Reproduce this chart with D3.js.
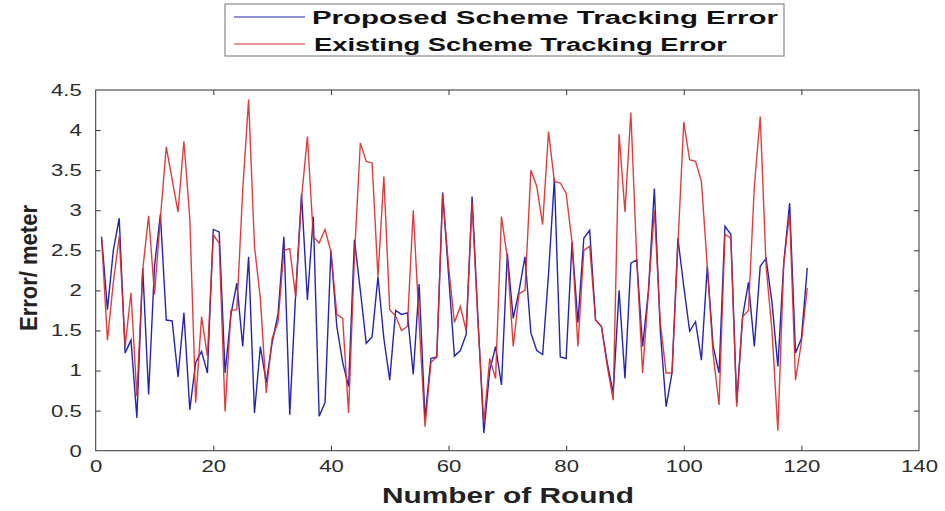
<!DOCTYPE html>
<html>
<head>
<meta charset="utf-8">
<script src="https://cdn.jsdelivr.net/npm/d3@7"></script>
<style>
  body { margin: 0; background: #fff; }
  text { font-family: "Liberation Sans", Arial, sans-serif; }
</style>
</head>
<body>
<svg id="chart" width="945" height="511"></svg>
<script>
// data, one value per round (rounds 1..121)
var proposed = [2.67, 1.76, 2.5, 2.9, 1.22, 1.38, 0.41, 2.28, 0.7, 2.3,
  2.95, 1.63, 1.62, 0.92, 1.72, 0.51, 1.1, 1.24, 0.97, 2.76,
  2.73, 0.97, 1.7, 2.09, 1.3, 2.42, 0.47, 1.3, 0.85, 1.35,
  1.7, 2.67, 0.45, 1.95, 3.2, 1.88, 2.92, 0.43, 0.6, 2.5,
  1.55, 1.1, 0.8, 2.63, 2.0, 1.34, 1.42, 2.17, 1.4, 0.88,
  1.75, 1.7, 1.72, 0.95, 2.08, 0.4, 1.15, 1.17, 3.22, 2.2,
  1.18, 1.25, 1.45, 3.17, 1.65, 0.22, 1.0, 1.3, 0.82, 2.46,
  1.65, 2.0, 2.42, 1.47, 1.25, 1.2, 2.2, 3.4, 1.17, 1.15,
  2.6, 1.6, 2.65, 2.75, 1.63, 1.55, 1.09, 0.72, 2.0, 0.9,
  2.34, 2.38, 1.3, 2.0, 3.27, 1.5, 0.55, 0.97, 2.65, 2.05,
  1.49, 1.61, 1.13, 2.3, 1.3, 0.97, 2.8, 2.7, 0.6, 1.67,
  2.1, 1.3, 2.3, 2.4, 1.85, 1.05, 2.34, 3.09, 1.22, 1.4,
  2.28];
var existing = [2.65, 1.38, 2.1, 2.67, 1.3, 1.97, 0.68, 2.26, 2.93, 1.95,
  2.9, 3.79, 3.38, 2.98, 3.86, 2.9, 0.6, 1.67, 1.18, 2.69,
  2.59, 0.49, 1.75, 1.76, 3.25, 4.38, 2.55, 1.9, 0.72, 1.4,
  1.6, 2.5, 2.52, 1.92, 3.15, 3.92, 2.67, 2.59, 2.76, 2.48,
  1.7, 1.65, 0.47, 2.42, 3.84, 3.61, 3.59, 2.17, 3.42, 1.76,
  1.68, 1.5, 1.55, 3.0, 1.6, 0.3, 1.1, 1.17, 3.2, 2.3,
  1.6, 1.8, 1.5, 3.1, 1.6, 0.35, 1.15, 0.9, 2.92, 2.4,
  1.3, 1.96, 2.0, 3.5, 3.3, 2.82, 3.98, 3.36, 3.34, 3.21,
  2.6, 1.3, 2.5, 2.55, 1.63, 1.55, 1.05, 0.63, 3.95, 2.98,
  4.22, 2.4, 0.97, 2.0, 3.0, 1.6, 0.97, 0.97, 2.55, 4.1,
  3.63, 3.61, 3.36, 2.3, 1.2, 0.57, 2.7, 2.65, 0.55, 1.67,
  1.75, 3.3, 4.17, 2.3, 1.5, 0.25, 2.34, 2.96, 0.88, 1.35,
  2.03];
var seriesNames = ["Proposed Scheme Tracking Error", "Existing Scheme Tracking Error"];
var xTicks = [0, 20, 40, 60, 80, 100, 120, 140];
var yTicks = [0, 0.5, 1, 1.5, 2, 2.5, 3, 3.5, 4, 4.5];
var yTickLabels = ["0", "0.5", "1", "1.5", "2", "2.5", "3", "3.5", "4", "4.5"];

var svg = d3.select("#chart");
// plot box edges (note: "top" is taken by window.top)
var plotL = 95.7, plotR = 919, plotT = 90, plotB = 450.7;

var x = d3.scaleLinear().domain([0, 140]).range([plotL, plotR]);
var y = d3.scaleLinear().domain([0, 4.5]).range([plotB, plotT]);

// the reference is stretched sideways, so texts get widened too
var stretch = function(sel, k) {
  sel.each(function() {
    var w = this.getComputedTextLength();
    this.setAttribute("textLength", w * k);
    this.setAttribute("lengthAdjust", "spacingAndGlyphs");
  });
};

svg.append("rect").attr("width", 945).attr("height", 511).attr("fill", "#fff");

// axes, ticks pointing inwards like matlab
var gx = svg.append("g").attr("transform", "translate(0," + plotB + ")")
  .call(d3.axisBottom(x).tickValues(xTicks).tickSizeInner(-5).tickSizeOuter(0).tickPadding(9));
var gxTop = svg.append("g").attr("transform", "translate(0," + plotT + ")")
  .call(d3.axisTop(x).tickValues(xTicks).tickSizeInner(-5).tickSizeOuter(0).tickFormat(""));
var gy = svg.append("g").attr("transform", "translate(" + plotL + ",0)")
  .call(d3.axisLeft(y).tickValues(yTicks).tickSizeInner(-5).tickSizeOuter(0).tickPadding(14)
    .tickFormat(function(d, i) { return yTickLabels[i]; }));
var gyRight = svg.append("g").attr("transform", "translate(" + plotR + ",0)")
  .call(d3.axisRight(y).tickValues(yTicks).tickSizeInner(-5).tickSizeOuter(0).tickFormat(""));

svg.selectAll(".domain").remove();
svg.selectAll(".tick line").attr("stroke", "#333");
svg.selectAll(".tick text")
  .attr("font-family", "Liberation Sans, Arial, sans-serif")
  .attr("font-size", "17px")
  .attr("fill", "#2b2b2b");
svg.selectAll(".tick").filter(function(d) { return d === 0 || d === 140 || d === 4.5; })
  .select("line").remove();
stretch(svg.selectAll(".tick text"), 1.3);

svg.append("rect")
  .attr("x", plotL).attr("y", plotT)
  .attr("width", plotR - plotL).attr("height", plotB - plotT)
  .attr("fill", "none").attr("stroke", "#333").attr("stroke-width", 1);

// lines
var line = d3.line()
  .x(function(d, i) { return x(i + 1); })
  .y(function(d) { return y(d); });

svg.append("path").datum(proposed)
  .attr("d", line).attr("fill", "none")
  .attr("stroke", "#2525b0").attr("stroke-width", 1.4);
svg.append("path").datum(existing)
  .attr("d", line).attr("fill", "none")
  .attr("stroke", "#d92a2a").attr("stroke-width", 1.4).attr("stroke-opacity", 0.9);

// axis titles
svg.append("text")
  .attr("x", 508).attr("y", 503)
  .attr("text-anchor", "middle")
  .attr("font-weight", "bold").attr("font-size", "22px").attr("fill", "#222")
  .attr("textLength", 252).attr("lengthAdjust", "spacingAndGlyphs")
  .text("Number of Round");

svg.append("text")
  .attr("transform", "translate(37,268) rotate(-90)")
  .attr("text-anchor", "middle")
  .attr("font-weight", "bold").attr("font-size", "23px").attr("fill", "#222")
  .attr("textLength", 126).attr("lengthAdjust", "spacingAndGlyphs")
  .text("Error/ meter");

// legend
var lg = svg.append("g");
lg.append("rect")
  .attr("x", 225).attr("y", 4).attr("width", 559).attr("height", 52)
  .attr("fill", "#fff").attr("stroke", "#8a8a8a").attr("stroke-width", 1.2);
var legendColors = ["#2525b0", "#d92a2a"];
var legendRows = [17, 44];
var legendWidths = [466, 413];
seriesNames.forEach(function(name, i) {
  lg.append("line")
    .attr("x1", 234).attr("x2", 305)
    .attr("y1", legendRows[i]).attr("y2", legendRows[i])
    .attr("stroke", legendColors[i]).attr("stroke-width", 1.2);
  lg.append("text")
    .attr("x", 312 + i * 2).attr("y", legendRows[i] + 7)
    .attr("font-family", "DejaVu Sans, Verdana, sans-serif")
    .attr("font-weight", "bold").attr("font-size", "18px").attr("fill", "#111")
    .attr("textLength", legendWidths[i]).attr("lengthAdjust", "spacingAndGlyphs")
    .text(name);
});
</script>
</body>
</html>
